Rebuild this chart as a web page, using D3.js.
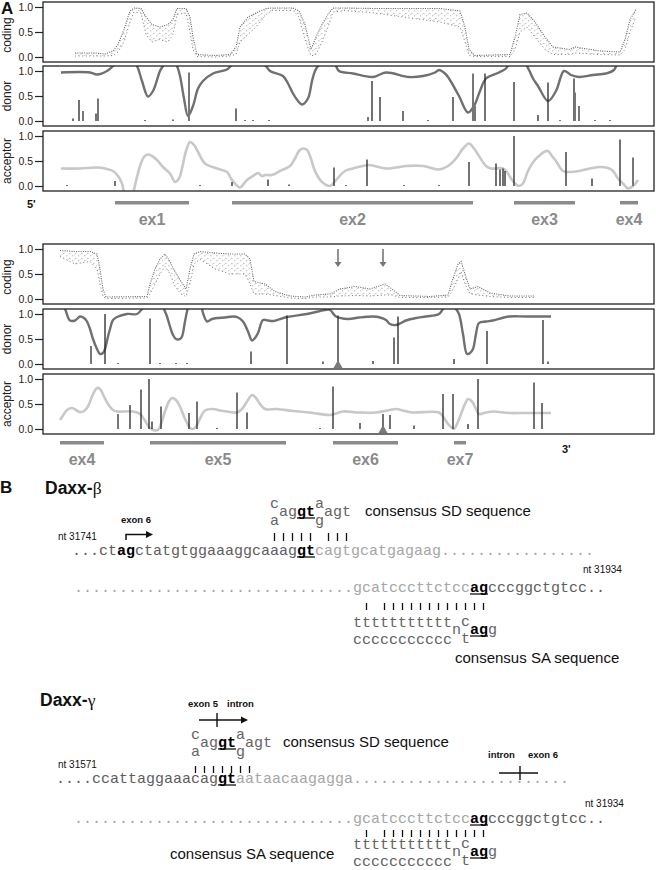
<!DOCTYPE html>
<html>
<head>
<meta charset="utf-8">
<script src="https://cdn.jsdelivr.net/npm/d3@7"></script>
<style>
  body { margin: 0; background: #fff; }
  svg { display: block; }
  text { font-family: "Liberation Sans", Arial, sans-serif; }
  .mono { font-family: "Liberation Mono", "Courier New", monospace; font-size: 15px; }
</style>
</head>
<body>
<div class="chart-area"></div>
<script>
// ---- panel A data: positions along the sequence axis (0..611), scores 0..1 ----
const tickValues = [0, 0.5, 1.0];
const panelNames = ["coding", "donor", "acceptor"];

// coding potential: [pos, low, high] envelope of the dot cloud
const coding1 = [[32,.02,.08],[52,.02,.08],[62,.02,.06],[70,.03,.12],[75,.1,.25],[81,.3,.55],[87,.7,.92],[91,.9,.98],
  [98,.88,.97],[103,.45,.8],[109,.3,.65],[117,.35,.6],[125,.3,.65],[130,.45,.75],[134,.85,.97],[143,.88,.97],[147,.5,.8],
  [150,.15,.4],[154,.01,.05],[172,0,.03],[187,.02,.05],[193,.05,.2],[197,.3,.6],[205,.45,.8],[213,.6,.88],[223,.85,.97],
  [229,.93,.98],[250,.93,.98],[256,.8,.92],[262,.35,.65],[268,.02,.15],[273,.05,.4],[279,.3,.65],[285,.6,.85],[290,.9,.98],
  [302,.93,.98],[332,.88,.97],[367,.78,.97],[397,.7,.97],[417,.6,.92],[422,.3,.6],[426,.03,.15],[432,.01,.03],[467,.01,.05],
  [472,.15,.4],[477,.5,.85],[484,.6,.88],[492,.4,.7],[502,.15,.4],[510,.05,.2],[527,.05,.15],[532,.08,.2],[557,.05,.12],
  [577,.04,.1],[582,.15,.35],[587,.5,.75],[593,.8,.95]];
const donorCurve1 = [[18,.97],[47,.97],[54,.93],[64,1],[70,1.1],[77,1.3],[87,1.3],[94,1.1],[99,.8],[105,.49],[110,.6],
  [117,1],[120,1.1],[127,1.3],[134,1.1],[137,.9],[141,.45],[145,.1],[150,.3],[155,.65],[160,.8],[170,.95],[184,1.03],
  [189,1.12],[207,1.3],[222,1.12],[227,1.0],[240,.9],[245,.75],[250,.55],[255,.4],[259,.33],[265,.45],[269,.8],[272,1],
  [275,1.1],[287,1.3],[293,1.1],[296,1],[310,.95],[330,.88],[343,.97],[366,.88],[380,.9],[392,.97],[396,1.02],[402,.95],
  [406,.85],[416,.5],[425,.17],[431,.3],[437,.6],[443,.85],[456,.97],[463,1.05],[469,1.25],[479,1.25],[486,1.02],[490,.85],
  [495,.7],[505,.4],[513,.6],[521,1],[528,.92],[536,.88],[550,.92],[563,.95],[571,1.02],[577,1.25],[595,1.3]];
const acceptorCurve1 = [[18,.35],[37,.35],[54,.37],[62,.35],[70,.3],[75,.2],[79,.05],[82,-.15],[89,-.15],[93,.1],[97,.4],
  [101,.58],[105,.63],[109,.6],[114,.52],[120,.38],[127,.25],[132,.08],[136,.15],[139,.35],[143,.7],[147,.88],[151,.82],
  [154,.72],[162,.45],[174,.35],[184,.28],[188,.15],[192,.05],[197,-.03],[201,.05],[204,.12],[210,.2],[215,.26],[219,.2],
  [222,.22],[229,.22],[237,.3],[247,.4],[252,.55],[256,.7],[260,.75],[264,.72],[267,.6],[271,.35],[274,.22],[279,.08],
  [287,0],[293,.12],[302,.3],[310,.35],[326,.42],[343,.35],[363,.4],[380,.4],[396,.33],[405,.4],[413,.55],[420,.75],
  [426,.85],[431,.75],[436,.6],[443,.4],[448,.35],[460,.35],[465,.25],[468,.15],[472,.05],[476,0],[480,.05],[485,.3],
  [491,.5],[496,.6],[501,.68],[505,.7],[509,.6],[513,.5],[520,.3],[527,.28],[536,.3],[556,.38],[565,.36],[570,.3],
  [575,.15],[580,.05],[585,-.05],[590,0],[595,.12]];
// splice site predictions: [pos, score, grey]
const donorSites1 = [[30,.05,0],[36,.42,0],[40,.2,1],[53,.15,0],[55,.45,1],[102,.01,0],[130,.03,0],[146,.97,1],[193,.25,0],
  [202,.01,0],[210,.01,0],[226,.01,0],[325,.08,1],[329,.8,0],[337,.48,0],[360,.2,0],[385,.02,0],[410,.48,0],[430,.95,1],
  [432,.3,1],[442,.95,0],[471,.78,0],[495,.12,0],[505,.77,0],[517,.02,0],[531,.85,0],[532,.57,1],[536,.3,1],[552,.02,0],[567,.02,0]];
const acceptorSites1 = [[24,.02,0],[72,.1,0],[157,.01,0],[189,.08,0],[225,.13,0],[246,.03,0],[291,.37,0],[303,.02,0],
  [324,.53,0],[361,.01,0],[396,.01,0],[426,.48,0],[453,.45,0],[457,.33,0],[460,.35,0],[462,.3,0],[471,1.0,0],[523,.68,0],
  [549,.15,0],[577,.93,0],[590,.57,1]];
const exons1 = [["ex1",72,146],["ex2",189,430],["ex3",471,532],["ex4",577,595]];

const coding2 = [[17,.85,.97],[32,.7,.95],[47,.75,.95],[54,.6,.9],[57,.3,.6],[60,.05,.2],[63,.01,.04],[104,.02,.05],
  [107,.1,.3],[112,.3,.6],[117,.5,.8],[122,.65,.9],[127,.5,.75],[132,.25,.55],[138,.1,.35],[143,.05,.2],[147,.3,.6],
  [151,.7,.9],[157,.8,.95],[172,.6,.92],[187,.5,.9],[202,.5,.9],[207,.3,.8],[211,.1,.35],[222,.1,.3],[232,.07,.15],
  [247,.02,.06],[262,.01,.04],[272,.04,.08],[287,.04,.1],[297,.06,.2],[312,.07,.25],[327,.06,.2],[342,.08,.3],[349,.08,.2],
  [357,.03,.07],[387,.03,.05],[405,.04,.08],[409,.15,.35],[415,.4,.7],[418,.55,.75],[422,.3,.5],[427,.1,.2],[435,.08,.25],
  [447,.05,.12],[467,.03,.06],[492,.03,.06]];
const donorCurve2 = [[20,1.25],[23,1.05],[27,.87],[32,.87],[37,.95],[41,.92],[44,.85],[47,.7],[50,.5],[54,.3],[57,.2],
  [60,.22],[62,.3],[65,.55],[67,.7],[70,.88],[74,.94],[84,1],[94,1],[99,1.1],[103,1.25],[117,1.25],[122,1.05],[124,.95],
  [127,.75],[130,.58],[133,.5],[137,.5],[139,.55],[142,.85],[144,1.05],[147,1.25],[157,1.25],[160,1.02],[164,.85],
  [169,.9],[174,.92],[182,.93],[190,.95],[195,.93],[200,.85],[205,.65],[209,.47],[212,.52],[215,.62],[220,.88],[225,.87],
  [230,.86],[244,.94],[264,1],[282,1.08],[287,1.08],[293,.95],[305,.9],[316,.93],[330,.95],[337,.93],[343,.88],[347,.8],
  [353,.78],[358,.82],[363,.87],[373,.92],[383,.95],[396,1],[400,1.1],[407,1.25],[413,1.1],[416,1],[420,.6],[424,.2],
  [427,.22],[430,.3],[433,.6],[436,.82],[443,.85],[450,.87],[466,.95],[483,.95],[508,.95]];
const acceptorCurve2 = [[17,.18],[21,.3],[24,.38],[29,.42],[33,.38],[37,.34],[41,.36],[45,.45],[49,.65],[54,.82],[57,.8],
  [61,.65],[65,.5],[70,.38],[74,.35],[90,.35],[97,.3],[101,.2],[104,.1],[107,.02],[110,-.02],[115,-.02],[118,.1],[122,.35],
  [126,.55],[129,.62],[133,.58],[137,.45],[141,.25],[144,.12],[147,.02],[150,0],[154,.08],[158,.25],[162,.37],[170,.4],
  [177,.37],[184,.35],[194,.33],[199,.4],[204,.55],[209,.68],[213,.62],[217,.5],[222,.4],[234,.4],[250,.36],[267,.33],
  [287,.28],[300,.35],[316,.33],[333,.33],[347,.38],[353,.4],[362,.36],[370,.33],[396,.33],[401,.22],[405,.1],[409,.02],
  [411,0],[414,.1],[418,.3],[422,.5],[425,.6],[429,.55],[433,.4],[436,.3],[443,.33],[450,.35],[466,.32],[483,.32],[508,.32]];
const donorSites2 = [[48,.36,1],[62,1.0,0],[75,.02,0],[107,.91,0],[117,.01,0],[133,.01,0],[144,.01,0],[208,.25,0],
  [244,.97,0],[280,.05,0],[295,.97,0],[330,.06,0],[351,.53,0],[355,.95,0],[411,.1,0],[444,.66,0],[500,.88,0],[505,.05,0]];
const acceptorSites2 = [[75,.3,1],[87,.48,0],[98,.79,0],[106,1.0,0],[109,.15,0],[118,.45,0],[146,.32,0],[154,.55,0],
  [174,.01,0],[194,.73,0],[204,.33,0],[277,.02,0],[290,.85,0],[317,.12,0],[340,.3,0],[347,.28,0],[371,.07,0],[400,.7,0],
  [410,.7,0],[425,.1,0],[435,1.0,0],[491,.93,0],[499,.52,0]];
const exons2 = [["ex4",17,61],["ex5",107,243],["ex6",290,355],["ex7",411,423]];
const arrowPos2 = [295, 340];
const donorMark2 = 295;
const acceptorMark2 = 340;

// ---- panel B data: sequences ----
const betaSeq1 = [["...ct","ex"],["ag","b"],["ctatgtggaaaggcaaag","ex"],["gt","bu"],["cagtgcatgagaag","in"],[".................","in"]];
const sdConsensus = [[0,"c","sup"],[0,"a","sub"],[1,"ag",""],[3,"gt","bu"],[5,"a","sup"],[5,"g","sub"],[6,"agt",""]];
const seqSA = [["...............................","in"],["gcatcccttctcc","in"],["ag","bu"],["cccggctgtcc..","ex"]];
const saConsensus = [[0,"ttttttttttt","top"],[0,"ccccccccccc","bot"],[11,"n",""],[12,"c","sup"],[12,"t","sub"],[13,"ag","bu"],[15,"g",""]];
const saMatchCols = [32,34,35,36,37,38,39,40,41,42,43,44,45];
const betaSdMatchCols = [22,23,24,25,26,28,29,30];
const gammaSeq1 = [["....ccattaggaaacag","ex"],["gt","bu"],["aataacaagagga","in"],["........................","in"]];
const gammaSdMatchCols = [15,16,17,18,19,20,21];

const width = 656;
const height = 870;

const svg = d3.select(".chart-area").append("svg")
    .attr("width", width)
    .attr("height", height)
    .style("background", "#fff");

const defs = svg.append("defs");
const pat = defs.append("pattern")
    .attr("id", "dots")
    .attr("patternUnits", "userSpaceOnUse")
    .attr("width", 6).attr("height", 5);
pat.append("circle").attr("cx", 0.8).attr("cy", 0.8).attr("r", 0.55).attr("fill", "#8a8a8a");
pat.append("circle").attr("cx", 3.9).attr("cy", 3.4).attr("r", 0.55).attr("fill", "#a0a0a0");
pat.append("circle").attr("cx", 2.2).attr("cy", 4.3).attr("r", 0.45).attr("fill", "#b0b0b0");

const x = d3.scaleLinear().domain([0, 611]).range([43, 654]);
const panelH = 60;
const rowTops = [[2, 66, 131], [244, 309, 374]];

let clipId = 0;
function drawPanel(top, name, opts) {
    const y = d3.scaleLinear().domain([0, 1]).range([top + 55, top + 5]);
    const g = svg.append("g");
    const id = "clip" + (clipId++);
    defs.append("clipPath").attr("id", id)
        .append("rect").attr("x", 43).attr("y", top).attr("width", 611).attr("height", panelH);
    const inner = g.append("g").attr("clip-path", `url(#${id})`);

    if (opts.coding) {
        const area = d3.area().x(d => x(d[0])).y0(d => y(d[1])).y1(d => y(d[2]));
        inner.append("path").datum(opts.coding).attr("d", area).attr("fill", "url(#dots)");
        // upper edge: dense dots, lower edge: sparse dots
        inner.append("path").datum(opts.coding)
            .attr("d", d3.line().x(d => x(d[0])).y(d => y(d[2])))
            .attr("fill", "none").attr("stroke", "#666")
            .attr("stroke-width", 1.1).attr("stroke-dasharray", "1,1.3");
        inner.append("path").datum(opts.coding)
            .attr("d", d3.line().x(d => x(d[0])).y(d => y(d[1])))
            .attr("fill", "none").attr("stroke", "#777")
            .attr("stroke-width", 1).attr("stroke-dasharray", "1,2.6");
    }
    if (opts.curve) {
        inner.append("path").datum(opts.curve)
            .attr("d", d3.line().x(d => x(d[0])).y(d => y(d[1])).curve(d3.curveCatmullRom.alpha(0.5)))
            .attr("fill", "none")
            .attr("stroke", opts.curveColor)
            .attr("stroke-width", opts.curveWidth)
            .attr("stroke-linejoin", "round");
    }
    if (opts.sites) {
        inner.selectAll(".site").data(opts.sites).enter().append("line")
            .attr("x1", d => x(d[0])).attr("x2", d => x(d[0]))
            .attr("y1", y(0)).attr("y2", d => Math.min(y(d[1]), y(0) - 1))
            .attr("stroke", d => d[2] ? "#777" : "#262626")
            .attr("stroke-width", d => d[2] ? 2 : 1.3);
    }
    if (opts.mark != null) {
        const mx = x(opts.mark);
        g.append("path")
            .attr("d", `M${mx - 4.5},${top + 59}L${mx + 4.5},${top + 59}L${mx},${top + 51}Z`)
            .attr("fill", "#7a7a7a");
    }
    if (opts.arrows) {
        opts.arrows.forEach(p => {
            const ax = x(p);
            g.append("line").attr("x1", ax).attr("x2", ax).attr("y1", y(1.0)).attr("y2", y(0.72))
                .attr("stroke", "#777").attr("stroke-width", 1.6);
            g.append("path").attr("d", `M${ax - 3.5},${y(0.74)}L${ax + 3.5},${y(0.74)}L${ax},${y(0.64)}Z`)
                .attr("fill", "#777");
        });
    }

    g.append("rect").attr("x", 43).attr("y", top).attr("width", 611).attr("height", panelH)
        .attr("fill", "none").attr("stroke", "#222").attr("stroke-width", 1.3);

    const axis = g.append("g").attr("transform", "translate(43,0)")
        .call(d3.axisLeft(y).tickValues(tickValues).tickFormat(d3.format(".1f")).tickSize(8).tickPadding(2));
    axis.select(".domain").remove();
    axis.selectAll("line").attr("stroke", "#222").attr("stroke-width", 1.2);
    axis.selectAll("text").attr("font-size", "10.5px").attr("fill", "#222")
        .style("font-family", "'Liberation Sans', Arial, sans-serif");

    g.append("text")
        .attr("transform", `translate(11,${top + panelH / 2 + (name === "coding" ? 3 : 0)}) rotate(-90)`)
        .attr("text-anchor", "middle")
        .attr("font-size", "12px")
        .attr("fill", "#222")
        .text(name);
}

function drawExons(yBar, exons) {
    exons.forEach(e => {
        svg.append("line").attr("x1", x(e[1])).attr("x2", x(e[2])).attr("y1", yBar).attr("y2", yBar)
            .attr("stroke", "#8a8a8a").attr("stroke-width", 3.5);
        svg.append("text").attr("x", (x(e[1]) + x(e[2])) / 2).attr("y", yBar + 22)
            .attr("text-anchor", "middle").attr("font-size", "16px").attr("font-weight", "bold")
            .attr("fill", "#8a8a8a").text(e[0]);
    });
}

const rows = [
    { coding: coding1, donor: donorCurve1, acceptor: acceptorCurve1, dSites: donorSites1, aSites: acceptorSites1 },
    { coding: coding2, donor: donorCurve2, acceptor: acceptorCurve2, dSites: donorSites2, aSites: acceptorSites2 }
];
rows.forEach((r, i) => {
    const t = rowTops[i];
    drawPanel(t[0], panelNames[0], { coding: r.coding, arrows: i === 1 ? arrowPos2 : null });
    drawPanel(t[1], panelNames[1], { curve: r.donor, curveColor: "#707070", curveWidth: 2.4, sites: r.dSites,
        mark: i === 1 ? donorMark2 : null });
    drawPanel(t[2], panelNames[2], { curve: r.acceptor, curveColor: "#c8c8c8", curveWidth: 2.6, sites: r.aSites,
        mark: i === 1 ? acceptorMark2 : null });
});
drawExons(202.7, exons1);
drawExons(442.7, exons2);

function label(tx, ty, str, size, bold, anchor) {
    return svg.append("text").attr("x", tx).attr("y", ty).attr("font-size", size + "px")
        .attr("font-weight", bold ? "bold" : "normal").attr("fill", "#111")
        .attr("text-anchor", anchor || "start").text(str);
}
label(1, 14, "A", 17, true);
label(27, 208, "5'", 11, true);
label(562, 453, "3'", 11, true);

// ---- panel B ----
const cw = 9;
const styleOf = {
    ex: { fill: "#5e5e5e", weight: "normal" },
    in: { fill: "#a6a6a6", weight: "normal" },
    b: { fill: "#000", weight: "bold" },
    bu: { fill: "#000", weight: "bold" },
    "": { fill: "#646464", weight: "normal" }
};
function seqLine(x0, base, parts) {
    let col = 0;
    parts.forEach(p => {
        const st = styleOf[p[1]];
        svg.append("text").attr("class", "mono").attr("x", x0 + col * cw).attr("y", base)
            .attr("fill", st.fill).attr("font-weight", st.weight).text(p[0]);
        if (p[1] === "bu") {
            svg.append("line").attr("x1", x0 + col * cw).attr("x2", x0 + (col + p[0].length) * cw)
                .attr("y1", base + 2).attr("y2", base + 2).attr("stroke", "#000").attr("stroke-width", 1.2);
        }
        col += p[0].length;
    });
}
// one text element per consensus block, stacked letters as tspans
function consensus(x0, col0, base, items, offs) {
    const t = svg.append("text").attr("class", "mono");
    items.forEach(it => {
        const st = styleOf[it[2] === "bu" ? "bu" : ""];
        const dy = offs[it[2]] || 0;
        const cx = x0 + (col0 + it[0]) * cw;
        t.append("tspan").attr("x", cx).attr("y", base + dy)
            .attr("fill", st.fill).attr("font-weight", st.weight).text(it[1]);
        if (it[2] === "bu") {
            svg.append("line").attr("x1", cx).attr("x2", cx + it[1].length * cw)
                .attr("y1", base + 2).attr("y2", base + 2).attr("stroke", "#000").attr("stroke-width", 1.2);
        }
    });
}
function matchBars(x0, cols, y1, y2) {
    svg.selectAll(null).data(cols).enter().append("line")
        .attr("x1", c => x0 + c * cw + cw / 2).attr("x2", c => x0 + c * cw + cw / 2)
        .attr("y1", y1).attr("y2", y2).attr("stroke", "#111").attr("stroke-width", 1.3);
}
function arrowMark(x1, xTick, x2, yy, head) {
    svg.append("line").attr("x1", x1).attr("x2", x2).attr("y1", yy).attr("y2", yy)
        .attr("stroke", "#111").attr("stroke-width", 1.4);
    svg.append("line").attr("x1", xTick).attr("x2", xTick).attr("y1", yy - 7).attr("y2", yy + 7)
        .attr("stroke", "#111").attr("stroke-width", 1.4);
    if (head) {
        svg.append("path").attr("d", `M${x2 - 1},${yy - 3.5}L${x2 + 6},${yy}L${x2 - 1},${yy + 3.5}Z`).attr("fill", "#111");
    }
}
const sdOffs = { sup: -8, sub: 9 };
const saOffs = { sup: -8, sub: 9, top: -7, bot: 10 };

// Daxx-beta
label(0, 493, "B", 17, true);
const hb = label(45, 494, "Daxx-", 17.5, true);
hb.append("tspan").attr("font-weight", "normal").style("font-family", "'Liberation Serif', 'DejaVu Serif', serif").text("β");
label(121, 523, "exon 6", 9.5, true);
svg.append("path").attr("d", "M126,540V534.5H147").attr("fill", "none").attr("stroke", "#111").attr("stroke-width", 1.5);
svg.append("path").attr("d", "M146,531L153,534.5L146,538Z").attr("fill", "#111");
label(58, 540, "nt 31741", 10, false);
consensus(72, 22, 516, sdConsensus, sdOffs);
label(365, 516, "consensus SD sequence", 15, false);
matchBars(72, betaSdMatchCols, 533, 541);
seqLine(72, 555, betaSeq1);
label(583, 573, "nt 31934", 10, false);
seqLine(74, 592, seqSA);
matchBars(74, saMatchCols, 603, 610);
consensus(74, 31, 634, saConsensus, saOffs);
label(455, 663, "consensus SA sequence", 15, false);

// Daxx-gamma
const hg = label(40, 706, "Daxx-", 17.5, true);
hg.append("tspan").attr("font-weight", "normal").style("font-family", "'Liberation Serif', 'DejaVu Serif', serif").text("γ");
label(188, 707, "exon 5", 9.5, true);
label(227, 707, "intron", 9.5, true);
arrowMark(199, 217, 242, 720, true);
consensus(56, 15, 747, sdConsensus, sdOffs);
label(283, 747, "consensus SD sequence", 15, false);
label(58, 768, "nt 31571", 10, false);
matchBars(56, gammaSdMatchCols, 766, 773);
seqLine(56, 783, gammaSeq1);
label(488, 758, "intron", 9.5, true);
label(528, 758, "exon 6", 9.5, true);
arrowMark(499, 520, 538, 773, false);
label(585, 807, "nt 31934", 10, false);
seqLine(74, 823, seqSA);
matchBars(74, saMatchCols, 830, 837);
consensus(74, 31, 856, saConsensus, saOffs);
label(170, 859, "consensus SA sequence", 15, false);
</script>
</body>
</html>
